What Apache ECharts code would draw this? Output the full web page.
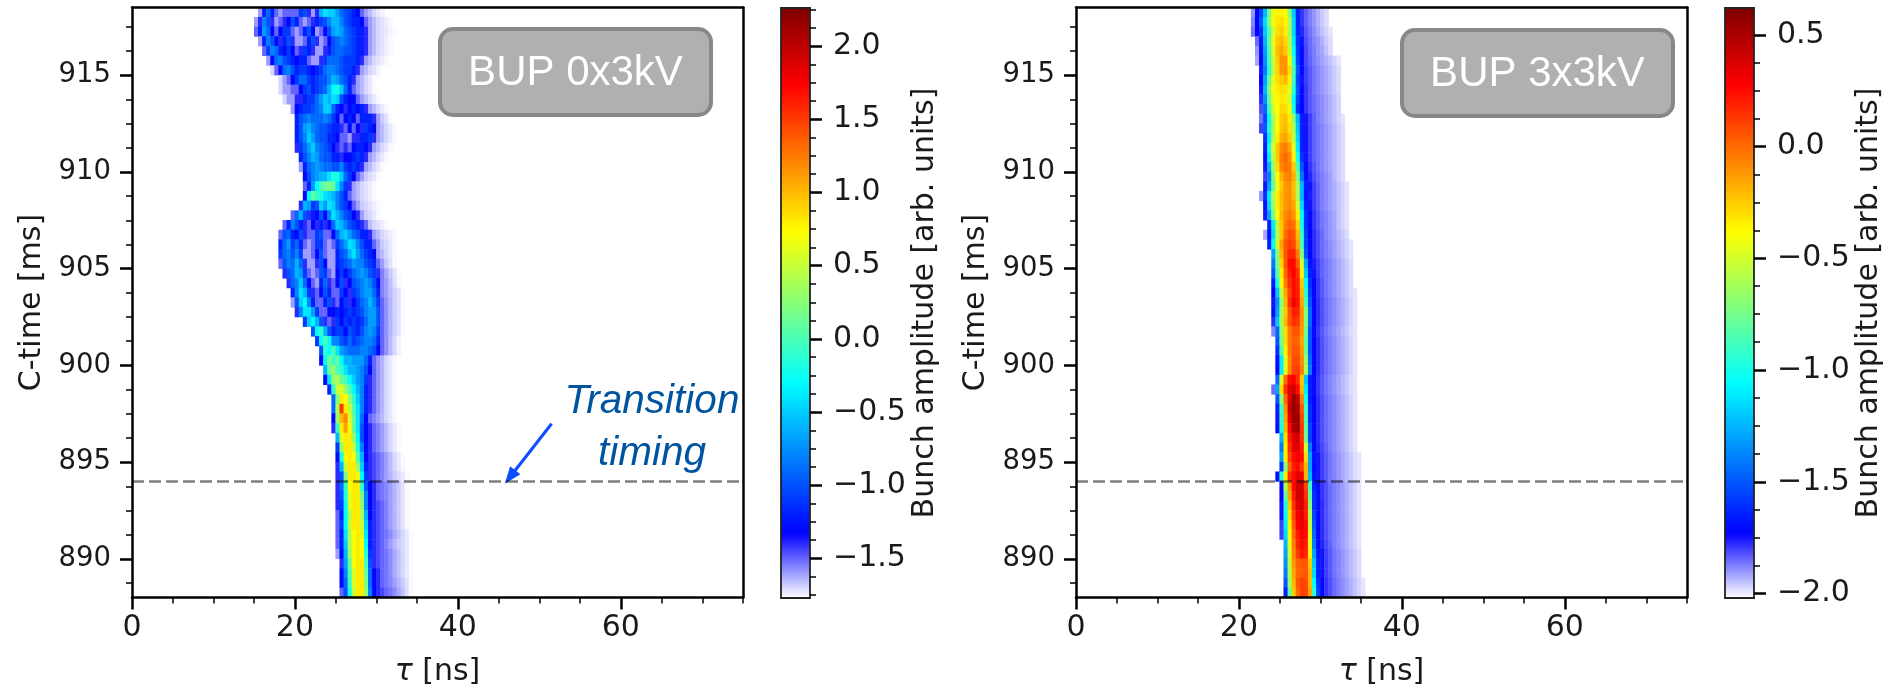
<!DOCTYPE html>
<html><head><meta charset="utf-8">
<style>html,body{margin:0;padding:0;background:#fff}#c{width:1891px;height:688px}</style>
<script src="https://cdn.jsdelivr.net/npm/echarts@6/dist/echarts.min.js"></script>
</head><body><div id="c"></div>
<script>
// Axis tick values
const tauMajor = [0, 20, 40, 60];
const tauMinor = [5, 10, 15, 25, 30, 35, 45, 50, 55, 65, 70, 75];
const timeMajor = [890, 895, 900, 905, 910, 915];
const timeMinor = [888.75, 891.25, 892.5, 893.75, 896.25, 897.5, 898.75, 901.25, 902.5, 903.75, 906.25, 907.5, 908.75, 911.25, 912.5, 913.75, 916.25, 917.5];
const barLeftMajor = [-1.5, -1, -0.5, 0, 0.5, 1, 1.5, 2];
const barLeftMinor = [-1.75, -1.625, -1.375, -1.25, -1.125, -0.875, -0.75, -0.625, -0.375, -0.25, -0.125, 0.125, 0.25, 0.375, 0.625, 0.75, 0.875, 1.125, 1.25, 1.375, 1.625, 1.75, 1.875, 2.125, 2.25];
const barRightMajor = [-2, -1.5, -1, -0.5, 0, 0.5];
const barRightMinor = [-1.875, -1.75, -1.625, -1.375, -1.25, -1.125, -0.875, -0.75, -0.625, -0.375, -0.25, -0.125, 0.125, 0.25, 0.375, 0.625];
const transitionTime = 894;
const rangeLeft = [-1.77, 2.26];
const rangeRight = [-2.02, 0.62];
const timeRange = [888, 918.5];
const tauRange = [0, 75];
const rowStepMs = 0.5, colStepNs = 0.5;

// Amplitude rows from 918.25 ms downwards, every 0.5 ms. First item = tau of first cell [ns], next items = cells every 0.5 ns.
// Left panel in tenths of an arb. unit
const ampLeft = [
[15.5,-16,-12,-9,-12,-15,-16,-15,-15,-15,-15,-11,-10,-14,-16,-14,-6,-4,-5,-5,-7,-9,-10,-11,-12,-13,-15,-16,-16.5,-17,-17.3,-17.5],
[15,-16,-14,-8,-10,-14,-16,-15,-14,-13,-10,-12,-15,-16,-15,-14,-12,-11,-10,-8,-6,-6,-8,-10,-11,-12,-12,-13,-15,-16,-16.5,-17,-17.2,-17.4,-17.6],
[15,-15,-12,-7,-9,-13,-15,-13,-11,-11,-15,-16,-15,-12,-10,-13,-16,-15,-13,-10,-7,-6,-7,-9,-10,-11,-12,-12,-14,-16,-16.5,-17,-17.2,-17.3,-17.5,-17.6],
[15.5,-16,-12,-8,-10,-13,-14,-12,-10,-14,-16,-16,-15,-12,-10,-14,-16,-15,-13,-10,-9,-8,-9,-10,-11,-12,-12,-14,-16,-16.5,-17,-17.2,-17.4,-17.6],
[16,-15,-11,-8,-9,-12,-13,-11,-13,-15,-14,-11,-12,-14,-16,-16,-14,-12,-10,-9,-9,-10,-10,-11,-12,-12,-14,-16,-16.5,-17,-17.2,-17.4,-17.6],
[16.5,-16,-13,-9,-8,-10,-11,-12,-13,-12,-12,-15,-16,-16,-14,-11,-9,-9,-9,-10,-11,-11,-11,-12,-14,-16,-16.5,-17,-17.2,-17.4,-17.6],
[17,-17,-15,-13,-9,-8,-10,-12,-11,-11,-12,-13,-12,-11,-9,-8,-8,-9,-10,-11,-11,-12,-14,-16,-16.5,-17,-17.2,-17.5],
[18,-17,-16,-15,-13,-11,-9,-9,-11,-12,-11,-10,-10,-8,-6,-7,-9,-10,-12,-14,-16,-16.5,-17,-17.3,-17.6],
[18,-17,-16,-16,-15,-15,-13,-11,-10,-12,-11,-10,-9,-6,-3,-2,-5,-9,-12,-15,-16,-16.5,-17,-17.3,-17.6],
[18.5,-17,-16,-16,-14,-14,-12,-11,-11,-9,-7,-5,-6,-4,-5,-10,-12,-13,-13,-15,-16,-16.5,-17,-17.3,-17.6],
[19.5,-16,-13,-12,-11,-11,-10,-9,-8,-5,-5,-9,-12,-13,-14,-13,-12,-13,-12,-14,-16,-16.5,-17,-17.3,-17.6],
[20,-12,-10,-9,-8,-9,-9,-9,-8,-9,-11,-13,-15,-13,-12,-13,-15,-12,-12,-12,-14,-16,-16.8,-17.2,-17.6],
[20,-12,-10,-7,-6,-8,-9,-10,-10,-11,-12,-12,-14,-15,-13,-15,-13,-14,-11,-12,-13,-16,-16.5,-17,-17.3,-17.6],
[20,-12,-10,-8,-5,-7,-9,-10,-10,-12,-12,-13,-15,-15,-16,-14,-14,-12,-12,-11,-14,-16,-16.5,-17,-17.3,-17.6],
[20,-14,-11,-9,-7,-5,-8,-9,-10,-11,-13,-14,-15,-14,-15,-13,-12,-12,-13,-14,-16,-16.5,-17,-17.3,-17.6],
[20.5,-12,-10,-8,-6,-7,-9,-10,-10,-12,-12,-14,-13,-13,-12,-11,-12,-14,-16,-16.5,-17,-17.3,-17.6],
[20.5,-16,-12,-9,-8,-7,-8,-9,-9,-10,-10,-8,-11,-12,-11,-12,-14,-16,-16.5,-17,-17.3,-17.6],
[21,-13,-10,-8,-7,-6,-6,-4,-2,-2,-5,-9,-11,-13,-15,-16,-16.8,-17.1,-17.3,-17.6],
[21,-15,-12,-7,-3,0,1,2,1,-4,-8,-11,-14,-16,-16.5,-17,-17.2,-17.4,-17.6],
[21,-13,-3,1,-1,-2,-4,-5,-6,-8,-10,-12,-15,-16,-16.5,-17,-17.2,-17.4,-17.6],
[20.5,-14,-6,-7,-11,-10,-5,-7,-4,-5,-8,-10,-11,-13,-15,-16,-16.8,-17,-17.2,-17.4,-17.6],
[19.5,-15,-9,-6,-10,-14,-12,-13,-10,-13,-8,-4,-6,-8,-10,-11,-13,-14,-16,-16.8,-17,-17.3,-17.6],
[18.5,-15,-12,-8,-10,-12,-14,-15,-13,-14,-12,-14,-13,-9,-5,-6,-8,-10,-11,-12,-14,-15,-16.5,-17,-17.2,-17.4,-17.6],
[18,-15,-10,-9,-12,-13,-10,-14,-15,-15,-11,-10,-15,-15,-13,-9,-6,-5,-7,-9,-10,-12,-12,-14,-16,-16.5,-17,-17.2,-17.4,-17.6],
[18,-12,-9,-7,-11,-9,-12,-15,-16,-15,-11,-11,-15,-16,-15,-11,-9,-7,-4,-5,-8,-10,-12,-12,-15,-16,-16.8,-17,-17.3,-17.6],
[18,-11,-9,-8,-10,-8,-11,-16,-16,-15,-13,-10,-15,-16,-16,-12,-10,-9,-6,-4,-7,-9,-11,-12,-13,-16,-16.5,-17,-17.3,-17.6],
[18,-15,-10,-8,-9,-6,-9,-14,-16,-16,-14,-10,-13,-16,-16,-12,-11,-10,-9,-7,-8,-8,-10,-11,-12,-15,-16,-16.8,-17.2,-17.6],
[18.5,-14,-10,-9,-6,-7,-11,-15,-16,-15,-10,-11,-15,-16,-13,-11,-13,-11,-9,-8,-7,-8,-10,-11,-14,-15.5,-16.2,-16.8,-17.2,-17.6],
[19,-14,-9,-8,-5,-9,-13,-15,-16,-12,-9,-14,-15,-13,-10,-14,-13,-10,-9,-8,-7,-8,-10,-13,-15.5,-16,-16.6,-17.1,-17.6],
[19.5,-12,-8,-4,-6,-11,-14,-15,-13,-10,-12,-15,-15,-11,-13,-14,-11,-10,-8,-7,-7,-9,-12,-15.5,-16,-16.5,-16.9,-17.2,-17.6],
[19.5,-16,-10,-5,-3,-8,-12,-15,-15,-12,-10,-14,-15,-13,-11,-14,-13,-11,-9,-8,-6,-8,-11,-15,-15.8,-16.4,-16.9,-17.2,-17.6],
[20,-14,-8,-4,-4,-7,-11,-15,-15,-13,-13,-12,-13,-12,-11,-12,-11,-10,-8,-7,-7,-10,-15,-15.8,-16.4,-16.9,-17.2,-17.6],
[21,-11,-5,-3,-6,-10,-14,-15,-14,-11,-13,-11,-12,-11,-12,-11,-9,-7,-7,-10,-15,-15.8,-16.4,-16.9,-17.2,-17.6],
[22,-10,-3,-1,-6,-10,-12,-11,-11,-13,-10,-11,-12,-10,-8,-7,-8,-11,-15,-15.8,-16.4,-16.9,-17.2,-17.6],
[22.5,-11,-3,0,-3,-8,-8,-10,-11,-9,-11,-10,-9,-8,-8,-9,-12,-15,-15.8,-16.5,-17,-17.5],
[23,-10,-1,-3,0,-4,-7,-8,-9,-9,-9,-8,-8,-9,-10,-13,-15,-15.8,-16.5,-17,-17.5],
[23,-13,-3,2,-1,1,-3,-6,-6,-7,-7,-7,-9,-12,-15,-15.8,-16.4,-17,-17.3,-17.6],
[23.5,-6,1,3,0,-1,-4,-6,-6,-7,-8,-10,-13,-15,-15.8,-16.4,-17,-17.3,-17.6],
[23.5,-13,-4,3,4,1,0,-3,-5,-7,-8,-11,-14,-15,-15.8,-16.4,-17,-17.3,-17.6],
[24,-12,-1,5,6,3,0,-3,-6,-8,-12,-14,-15,-15.8,-16.4,-17,-17.3,-17.6],
[24.5,-9,2,8,7,3,-1,-5,-8,-12,-14,-15,-15.8,-16.4,-17,-17.3,-17.6],
[24.5,-9,4,15,8,5,0,-4,-8,-12,-14,-15,-15.8,-16.4,-17,-17.3,-17.6],
[24.5,-13,3,10,12,6,1,-4,-9,-13,-15,-15.5,-16,-16.5,-17,-17.3,-17.6],
[24.5,-14,-1,8,11,7,1,-4,-10,-13,-14,-15,-15.5,-16,-16.5,-17,-17.3,-17.6],
[25,-6,6,8,8,3,-3,-10,-13,-14,-15,-15.5,-16,-16.5,-17,-17.3,-17.6],
[25,-11,3,8,8,5,-2,-8,-13,-14,-15,-15.5,-16,-16.5,-17,-17.3,-17.6],
[25,-13,-2,7,8,7,0,-6,-13,-14,-14.5,-15,-15.5,-16,-16.5,-17,-17.3,-17.6],
[25,-14,-6,5,8,8,3,-5,-12,-14,-14.5,-15,-15.5,-16,-16.5,-17,-17.3,-17.6],
[25,-14,-10,2,8,8,7,-3,-11,-14,-14.5,-15,-15.5,-16,-16.4,-16.8,-17.1,-17.3,-17.6],
[25,-14,-9,-1,7,8,8,-1,-10,-13,-14,-15,-15.3,-15.6,-16,-16.4,-16.8,-17.2,-17.6],
[25,-14,-10,-2,6,8,8,2,-8,-13,-14,-15,-15.3,-15.6,-16,-16.4,-16.8,-17.2,-17.6],
[25,-14,-11,-3,6,8,8,3,-8,-13,-14,-14.5,-15,-15.5,-16,-16.4,-16.8,-17.2,-17.6],
[25,-15,-12,-3,4,8,8,4,-6,-13,-14,-14.5,-15,-15.5,-16,-16.4,-16.8,-17.2,-17.6],
[25,-15,-11,-3,5,8,8,5,-5,-12,-14,-14.5,-15,-15.5,-16,-16.4,-16.8,-17.2,-17.6],
[25,-15,-12,-4,4,7,8,6,-4,-12,-14,-14.5,-15,-15.3,-15.7,-16.2,-16.6,-17,-17.3,-17.6],
[25,-15,-12,-5,4,7,8,7,-3,-12,-14,-14.5,-15,-15.5,-16,-16.4,-16.8,-17,-17.3,-17.6],
[25,-16,-13,-6,3,7,8,7,-1,-11,-14,-14.5,-15,-15.3,-15.7,-16.2,-16.6,-17,-17.3,-17.6],
[25.5,-14,-7,1,7,8,8,0,-10,-14,-14.5,-15,-15.3,-15.7,-16.2,-16.6,-17,-17.3,-17.6],
[25.5,-13,-8,0,6,8,8,1,-9,-13,-14,-15,-15.3,-15.7,-16.2,-16.6,-17,-17.3,-17.6],
[25.5,-13,-9,-1,6,8,8,2,-9,-13,-14,-15,-15.3,-15.6,-16,-16.4,-16.8,-17.2,-17.6],
[25.5,-15,-10,-2,5,8,8,3,-8,-13,-14,-14.5,-15,-15.3,-15.7,-16.2,-16.6,-17.1,-17.6]
];
// Right panel in hundredths of an arb. unit
const ampRight = [
[21.5,-190,-173,-155,-125,-75,-42,-36,-36,-40,-70,-120,-165,-179,-184,-187,-190,-193,-196,-198],
[21.5,-188,-172,-150,-115,-70,-42,-32,-30,-36,-60,-115,-165,-179,-184,-187,-190,-193,-196,-198],
[21.5,-186,-172,-160,-120,-85,-50,-30,-25,-34,-60,-115,-163,-177,-183,-186,-189,-192,-195,-197,-199],
[22,-185,-168,-125,-80,-45,-25,-20,-28,-55,-110,-160,-175,-182,-185,-188,-190,-193,-196,-198],
[22,-190,-170,-130,-85,-48,-22,-15,-24,-50,-105,-158,-174,-181,-185,-187,-190,-192,-195,-198],
[22,-192,-172,-135,-90,-52,-25,-10,-12,-40,-95,-155,-173,-181,-184,-187,-189,-191,-193,-195,-197,-199],
[22.5,-175,-140,-95,-55,-28,-12,-10,-30,-85,-150,-173,-180,-183,-186,-188,-190,-192,-194,-196,-198],
[22.5,-172,-130,-80,-45,-30,-25,-20,-35,-90,-155,-175,-180,-183,-186,-188,-190,-192,-194,-196,-198],
[22.5,-175,-125,-70,-42,-34,-30,-32,-45,-95,-150,-174,-179,-183,-186,-188,-190,-192,-194,-196,-198],
[22.5,-178,-135,-80,-45,-36,-33,-34,-50,-105,-155,-173,-179,-183,-185,-187,-189,-191,-193,-195,-197],
[22.5,-182,-145,-90,-50,-38,-28,-30,-42,-100,-160,-173,-179,-183,-185,-187,-189,-191,-193,-195,-197],
[22.5,-186,-155,-105,-60,-40,-25,-22,-34,-70,-125,-165,-175,-180,-184,-187,-189,-191,-193,-195,-197,-199],
[22.5,-180,-150,-100,-60,-38,-24,-20,-30,-60,-120,-165,-175,-180,-184,-186,-188,-190,-192,-194,-196,-198],
[23,-160,-110,-60,-34,-18,-14,-26,-55,-115,-165,-175,-180,-184,-186,-188,-190,-192,-194,-196,-198],
[23,-165,-100,-50,-25,-8,-5,-15,-45,-110,-165,-175,-180,-184,-186,-188,-190,-192,-194,-196,-198],
[23,-170,-110,-55,-25,-5,0,-8,-35,-100,-160,-175,-180,-184,-186,-188,-190,-192,-194,-196,-198],
[23,-175,-125,-65,-30,-8,-2,-5,-25,-85,-150,-173,-179,-183,-186,-188,-190,-192,-194,-196,-198],
[23,-180,-140,-75,-38,-18,-8,-6,-18,-70,-140,-170,-177,-182,-185,-187,-189,-191,-194,-196,-198],
[23,-175,-130,-80,-42,-25,-12,-10,-22,-60,-125,-165,-175,-180,-184,-187,-189,-191,-193,-195,-197,-199],
[22.5,-190,-160,-110,-60,-34,-20,-12,-10,-20,-60,-125,-168,-176,-180,-184,-187,-189,-191,-193,-195,-197,-199],
[23,-170,-115,-65,-35,-22,-12,-8,-15,-50,-115,-165,-175,-180,-184,-187,-189,-191,-193,-195,-197,-199],
[23,-175,-130,-75,-38,-20,-8,-4,-10,-35,-105,-160,-174,-179,-183,-186,-188,-190,-192,-195,-197,-199],
[23.5,-165,-110,-55,-25,-5,2,-2,-28,-100,-160,-174,-179,-183,-186,-188,-190,-192,-195,-197,-199],
[23,-192,-170,-115,-60,-25,0,8,5,-20,-90,-155,-173,-178,-182,-185,-188,-190,-192,-194,-196,-198],
[23.5,-165,-105,-50,-15,5,12,8,-15,-85,-155,-173,-178,-182,-185,-187,-189,-191,-193,-195,-197,-199],
[24,-130,-70,-20,5,18,18,-5,-70,-150,-173,-178,-182,-185,-187,-189,-191,-193,-195,-197,-199],
[24,-140,-75,-28,5,25,25,5,-50,-130,-168,-176,-180,-184,-186,-188,-190,-192,-194,-196,-198],
[24,-150,-85,-35,0,20,28,15,-35,-120,-165,-175,-180,-184,-186,-188,-190,-192,-194,-196,-198],
[24,-165,-100,-40,-5,15,25,18,-25,-105,-160,-173,-179,-183,-186,-188,-190,-192,-194,-196,-198],
[24,-172,-120,-55,-15,10,25,20,-20,-95,-155,-173,-179,-183,-186,-188,-190,-192,-194,-196,-198,-199],
[24,-175,-135,-70,-20,15,30,22,-15,-85,-150,-173,-178,-182,-185,-187,-189,-191,-193,-195,-197,-199],
[24,-170,-130,-65,-25,5,20,18,-10,-70,-145,-173,-178,-182,-185,-187,-189,-191,-193,-195,-197,-199],
[24,-178,-120,-60,-20,5,15,12,-10,-70,-145,-173,-178,-182,-185,-187,-189,-191,-193,-195,-197,-199],
[24,-188,-145,-70,-30,-5,5,5,-12,-75,-150,-174,-179,-183,-186,-188,-190,-192,-194,-196,-198,-199],
[24.5,-150,-75,-30,-5,3,2,-15,-80,-150,-173,-178,-182,-185,-187,-189,-191,-193,-195,-197,-199],
[24.5,-160,-85,-35,-5,5,5,-12,-75,-150,-173,-178,-182,-185,-187,-189,-191,-193,-195,-197,-199],
[24.5,-170,-110,-45,-10,8,8,-8,-65,-145,-173,-178,-182,-185,-187,-189,-191,-193,-195,-197,-199],
[24.5,-172,-110,-45,-8,10,12,-5,-60,-140,-171,-178,-182,-185,-187,-189,-191,-193,-195,-197,-199],
[24.5,-145,-50,0,25,28,15,-25,-120,-165,-174,-179,-183,-186,-188,-190,-192,-194,-196,-198,-199],
[24,-185,-130,-30,15,35,40,25,-20,-110,-165,-174,-179,-183,-186,-188,-190,-192,-194,-196,-198,-199],
[24.5,-150,-70,0,35,55,45,-5,-100,-165,-173,-178,-182,-185,-187,-189,-191,-193,-195,-197,-199],
[24.5,-165,-90,-10,40,55,50,5,-90,-160,-173,-178,-182,-185,-187,-189,-191,-193,-195,-197,-199],
[24.5,-175,-95,-15,35,55,55,10,-85,-160,-173,-178,-182,-185,-187,-189,-191,-193,-195,-197,-199],
[24.5,-170,-100,-20,25,50,55,15,-80,-155,-173,-178,-182,-185,-187,-189,-191,-193,-195,-197,-199],
[25,-125,-30,20,35,40,15,-75,-155,-173,-178,-182,-185,-187,-189,-191,-193,-195,-197,-199],
[25,-140,-35,15,35,35,20,-50,-140,-171,-177,-181,-184,-187,-189,-191,-193,-195,-197,-199],
[25,-130,-35,10,25,30,25,-30,-130,-168,-175,-180,-183,-186,-188,-190,-192,-194,-196,-198,-199],
[25,-160,-70,0,20,25,10,-20,-130,-170,-175,-180,-183,-186,-188,-190,-192,-194,-196,-198,-199],
[24.5,-170,-100,-35,15,25,35,30,-20,-125,-168,-175,-180,-183,-186,-188,-190,-192,-194,-196,-198,-199],
[25,-170,-60,-10,25,40,40,10,-90,-165,-174,-179,-182,-185,-187,-189,-191,-193,-195,-197,-199],
[25,-172,-80,-15,20,40,40,15,-80,-160,-174,-179,-182,-185,-187,-189,-191,-193,-195,-197,-199],
[25,-175,-100,-25,15,35,38,20,-70,-160,-174,-178,-182,-185,-187,-189,-191,-193,-195,-197,-199],
[25,-175,-105,-30,10,30,35,20,-60,-155,-173,-178,-182,-185,-187,-189,-191,-193,-195,-197,-199],
[25,-180,-110,-35,5,28,32,25,-55,-150,-173,-178,-182,-185,-187,-189,-191,-193,-195,-197,-199],
[25,-180,-115,-40,0,20,28,25,-45,-145,-173,-178,-182,-185,-187,-189,-191,-193,-195,-197,-199],
[25.5,-125,-45,-5,18,25,20,-45,-140,-171,-177,-181,-184,-187,-189,-191,-193,-195,-197,-199],
[25.5,-130,-50,-8,12,22,18,-35,-130,-168,-175,-180,-183,-186,-188,-190,-192,-194,-196,-198],
[25.5,-135,-55,-12,2,5,5,-25,-120,-165,-175,-180,-183,-186,-188,-190,-192,-194,-196,-198],
[25.5,-140,-60,-15,0,3,5,-20,-115,-165,-175,-180,-183,-186,-188,-190,-192,-194,-196,-198],
[25.5,-150,-65,-20,5,10,8,-20,-105,-160,-174,-179,-182,-185,-187,-189,-191,-193,-195,-197,-199],
[25.5,-165,-80,-25,0,10,10,-15,-95,-155,-173,-179,-182,-185,-187,-189,-191,-193,-195,-197,-199]
];

// Colormap: position along the colour bar, then rgb
const cmapPos = [0, 0.11, 0.365, 0.62, 0.868, 1];
const cmapRgb = [[255,255,255],[0,0,255],[0,255,255],[255,255,0],[255,0,0],[128,0,0]];

function cmap(n){
  const out=[];
  for(let i=0;i<=n;i++){
    const t=i/n; let j=0;
    while(j<cmapPos.length-2 && t>cmapPos[j+1]) j++;
    const f=(t-cmapPos[j])/(cmapPos[j+1]-cmapPos[j]);
    const c=cmapRgb[j].map((v,k)=>Math.round(v+(cmapRgb[j+1][k]-v)*f));
    out.push('rgb('+c.join(',')+')');
  }
  return out;
}
const tauCats=[]; for(let i=0;i<(tauRange[1]-tauRange[0])/colStepNs;i++) tauCats.push(i*colStepNs+colStepNs/2);
const timeCats=[]; for(let i=0;i<(timeRange[1]-timeRange[0])/rowStepMs;i++) timeCats.push(timeRange[0]+i*rowStepMs+rowStepMs/2);
function cells(rows,div){
  const out=[];
  rows.forEach((r,k)=>{
    const yi=timeCats.length-1-k, x0=Math.round(r[0]/colStepNs);
    for(let i=1;i<r.length;i++) out.push([x0+i-1,yi,r[i]/div]);
  });
  return out;
}

const FONT='DejaVu Sans', FS=30, INK='#1a1a1a';
const boxes={L:{left:132,top:7.5,width:611,height:590},R:{left:1076,top:7.5,width:611,height:590},
  bL:{left:781,top:8,width:29,height:590},bR:{left:1725,top:8,width:29,height:590}};
const grid=[boxes.L,boxes.R,boxes.bL,boxes.bR].map(b=>Object.assign({outerBoundsMode:'none'},b));
const lineOnly=(pos,g,range,w,c)=>({type:'value',gridIndex:g,position:pos,min:range[0],max:range[1],z:10,silent:true,
  axisLine:{show:true,onZero:false,lineStyle:{color:c||'#000',width:w||2.5}},axisTick:{show:false},axisLabel:{show:false},splitLine:{show:false}});
const ticksOnly=(pos,g,range,vals,len,w)=>({type:'value',gridIndex:g,position:pos,min:range[0],max:range[1],z:10,silent:true,
  axisLine:{show:false,onZero:false},axisTick:{show:true,length:len,customValues:vals,lineStyle:{color:'#000',width:w}},axisLabel:{show:false},splitLine:{show:false}});
const labelled=(pos,g,range,major,len,fmt,margin,name,gap,lw,lc,labelFs,pad)=>({type:'value',gridIndex:g,position:pos,min:range[0],max:range[1],z:10,silent:true,
  name:name,nameLocation:'middle',nameGap:gap,nameTextStyle:{fontFamily:FONT,fontSize:FS,color:INK,rich:{i:{fontFamily:FONT,fontStyle:'italic',fontSize:FS,color:INK}}},
  axisLine:{show:true,onZero:false,lineStyle:{color:lc||'#000',width:lw||2.5}},
  axisTick:{show:true,length:len,customValues:major,lineStyle:{color:'#000',width:2.5}},
  axisLabel:{show:true,customValues:major,margin:margin,fontFamily:FONT,fontSize:labelFs||FS,color:INK,formatter:fmt,padding:pad||0},splitLine:{show:false}});
const catAxis=(g,data)=>({type:'category',gridIndex:g,data:data,show:false,boundaryGap:true});
const intFmt=v=>String(Math.round(v));
const barFmt=v=>v.toFixed(1).replace('-','\u2212');

const xAxis=[],yAxis=[];
[0,1].forEach(g=>{
  xAxis.push(labelled('bottom',g,tauRange,tauMajor,12,intFmt,16,'{i|\u03c4} [ns]',60),
    ticksOnly('bottom',g,tauRange,tauMinor,6,1.5), lineOnly('top',g,tauRange), catAxis(g,tauCats));
  yAxis.push(labelled('left',g,timeRange,timeMajor,12,intFmt,21,'C-time [ms]',85,null,null,27.5,[4,0,0,0]),
    ticksOnly('left',g,timeRange,timeMinor,6,1.5), lineOnly('right',g,timeRange), catAxis(g,timeCats));
});
[[2,rangeLeft,barLeftMajor,barLeftMinor],[3,rangeRight,barRightMajor,barRightMinor]].forEach(b=>{
  const [g,range,maj,min]=b;
  xAxis.push(lineOnly('bottom',g,[0,1],1.8,'#222'),lineOnly('top',g,[0,1],1.8,'#222'));
  yAxis.push(labelled('right',g,range,maj,12,barFmt,23,'Bunch amplitude [arb. units]',g==2?98:100,1.8,'#222',FS,[3,0,0,0]),
    ticksOnly('right',g,range,min,6,1.5), lineOnly('left',g,range,1.8,'#222'));
});
const series=[
 {type:'heatmap',name:'0x3kV',xAxisIndex:3,yAxisIndex:3,data:cells(ampLeft,10),silent:true,progressive:0,emphasis:{disabled:true}},
 {type:'heatmap',name:'3x3kV',xAxisIndex:7,yAxisIndex:7,data:cells(ampRight,100),silent:true,progressive:0,emphasis:{disabled:true}},
 {type:'line',name:'transition L',xAxisIndex:0,yAxisIndex:0,z:5,silent:true,symbol:'none',data:[[tauRange[0],transitionTime],[tauRange[1],transitionTime]],
  lineStyle:{color:'rgba(0,0,0,0.5)',width:2.6,type:[12,5]},
  markLine:{silent:true,animation:false,symbol:['none','triangle'],symbolSize:[13,17],label:{show:false},
    lineStyle:{color:'#0d4dff',width:3,type:'solid'},
    data:[[{coord:[51.5,896.98]},{coord:[46.4,894.23]}]]}},
 {type:'line',name:'transition R',xAxisIndex:4,yAxisIndex:4,z:5,silent:true,symbol:'none',data:[[tauRange[0],transitionTime],[tauRange[1],transitionTime]],
  lineStyle:{color:'rgba(0,0,0,0.5)',width:2.6,type:[12,5]}}
];
const vm=(b,range,idx)=>({type:'continuous',seriesIndex:idx,dimension:2,min:range[0],max:range[1],calculable:false,hoverLink:false,realtime:false,
  left:b.left,top:b.top,itemWidth:b.width,itemHeight:b.height,padding:0,orient:'vertical',text:null,inRange:{color:cmap(160)},outOfRange:{color:cmap(160)},z:4});

const badge=(x,w,y,label)=>[
 {type:'rect',z:20,shape:{x:x,y:y,width:w,height:86,r:13},style:{fill:'#b0b0b0',stroke:'#888888',lineWidth:4}},
 {type:'text',z:21,x:x+w/2,y:y+44,style:{text:label,fontFamily:'Liberation Sans',fontSize:42,fill:'#fff',align:'center',verticalAlign:'middle'}}];
const note=(x,y,t)=>({type:'text',z:21,x:x,y:y,style:{text:t,fontFamily:'Liberation Sans',fontStyle:'italic',fontSize:40.5,fill:'#00549f',align:'center',verticalAlign:'middle'}});

const chart=echarts.init(document.getElementById('c'),null,{renderer:'canvas'});
chart.setOption({animation:false,backgroundColor:'#fff',grid:grid,xAxis:xAxis,yAxis:yAxis,series:series,
  visualMap:[vm(boxes.bL,rangeLeft,0),vm(boxes.bR,rangeRight,1)],
  graphic:[...badge(440,271,29,'BUP 0x3kV'),...badge(1402,271,30,'BUP 3x3kV'),note(652,402,'Transition'),note(652,454,'timing')]});
</script></body></html>
